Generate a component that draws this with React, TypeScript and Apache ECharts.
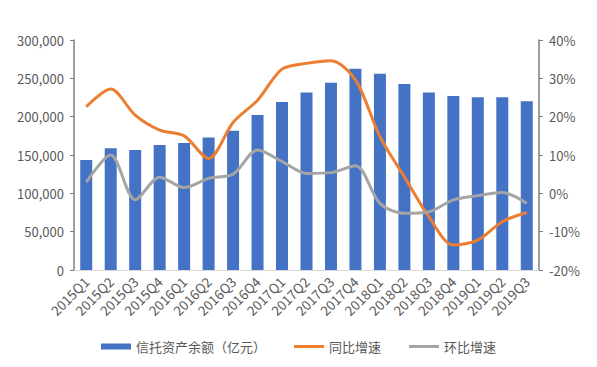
import React, { useEffect, useRef } from "react";
import * as echarts from "echarts";

const categories = [
  "2015Q1", "2015Q2", "2015Q3", "2015Q4",
  "2016Q1", "2016Q2", "2016Q3", "2016Q4",
  "2017Q1", "2017Q2", "2017Q3", "2017Q4",
  "2018Q1", "2018Q2", "2018Q3", "2018Q4",
  "2019Q1", "2019Q2", "2019Q3",
];

// 信托资产余额（亿元）
const assetBalance = [
  143500, 158700, 156400, 163000,
  165800, 172900, 181700, 202200,
  219100, 231400, 244100, 262500,
  256100, 242700, 231400, 227000,
  225300, 225400, 220000,
];

// 同比增速 (%)
const yoyGrowth = [
  22.6, 27.2, 20.4, 16.5,
  15.0, 9.1, 18.5, 24.3,
  32.4, 33.9, 34.6, 29.6,
  14.8, 4.3, -6.1, -13.5,
  -12.2, -7.4, -5.0,
];

// 环比增速 (%)
const qoqGrowth = [
  2.9, 10.0, -1.7, 4.2,
  1.5, 3.9, 5.0, 11.3,
  8.3, 5.2, 5.4, 7.2,
  -2.6, -5.2, -4.8, -1.7,
  -0.6, 0.2, -2.6,
];

const leftTicks = { min: 0, max: 300000, interval: 50000 };
const rightTicks = { min: -20, max: 40, interval: 10 };

const FONT = "'Noto Sans CJK SC', 'Noto Sans', sans-serif";
const LABEL = "#595959";
const LINE_ICON = "path://M0,0 L30,0 L30,3 L0,3 Z";

export default function App() {
  const ref = useRef<HTMLDivElement>(null);
  useEffect(() => {
    if (!ref.current) return;
    const chart = echarts.init(ref.current, undefined, { renderer: "svg" });
    chart.setOption({
      animation: false,
      backgroundColor: "#ffffff",
      textStyle: { fontFamily: FONT },
      grid: { left: 74, right: 58, top: 40, bottom: 97, containLabel: false },
      legend: {
        bottom: 9,
        left: "center",
        itemWidth: 30,
        itemHeight: 6,
        itemGap: 28,
        textStyle: { color: LABEL, fontSize: 13, fontFamily: FONT },
        data: [
          { name: "信托资产余额（亿元）", icon: "rect" },
          { name: "同比增速", icon: LINE_ICON },
          { name: "环比增速", icon: LINE_ICON },
        ],
      },
      xAxis: {
        type: "category",
        data: categories,
        axisLine: { show: true, lineStyle: { color: "#d9d9d9", width: 1 } },
        axisTick: { show: false },
        axisLabel: {
          rotate: 45,
          color: LABEL,
          fontSize: 13.5,
          margin: 9,
          interval: 0,
          fontFamily: FONT,
        },
      },
      yAxis: [
        {
          type: "value",
          min: leftTicks.min,
          max: leftTicks.max,
          interval: leftTicks.interval,
          axisLine: { show: true, lineStyle: { color: "#7f7f7f", width: 1.5 } },
          axisTick: { show: true, length: 4, lineStyle: { color: "#7f7f7f" } },
          splitLine: { show: false },
          axisLabel: {
            color: LABEL,
            fontSize: 13,
            margin: 10,
            fontFamily: FONT,
            formatter: (v: number) => v.toLocaleString("en-US"),
          },
        },
        {
          type: "value",
          min: rightTicks.min,
          max: rightTicks.max,
          interval: rightTicks.interval,
          position: "right",
          axisLine: { show: true, lineStyle: { color: "#7f7f7f", width: 1.5 } },
          axisTick: { show: true, length: 4, lineStyle: { color: "#7f7f7f" } },
          splitLine: { show: false },
          axisLabel: {
            color: LABEL,
            fontSize: 13,
            margin: 10,
            fontFamily: FONT,
            formatter: (v: number) => `${v}%`,
          },
        },
      ],
      series: [
        {
          name: "信托资产余额（亿元）",
          type: "bar",
          data: assetBalance,
          barWidth: 12,
          itemStyle: { color: "#4472C4" },
        },
        {
          name: "同比增速",
          type: "line",
          yAxisIndex: 1,
          data: yoyGrowth,
          smooth: 0.3,
          symbol: "none",
          lineStyle: { color: "#ED7D31", width: 3 },
          itemStyle: { color: "#ED7D31" },
        },
        {
          name: "环比增速",
          type: "line",
          yAxisIndex: 1,
          data: qoqGrowth,
          smooth: 0.3,
          symbol: "none",
          lineStyle: { color: "#A5A5A5", width: 3 },
          itemStyle: { color: "#A5A5A5" },
        },
      ],
    });
    return () => chart.dispose();
  }, []);
  return <div ref={ref} style={{ width: 597, height: 367, margin: -8 }} />;
}
